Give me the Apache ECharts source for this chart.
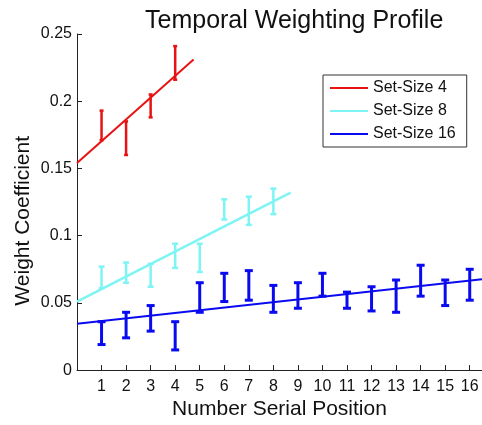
<!DOCTYPE html>
<html>
<head>
<meta charset="utf-8">
<script src="https://cdn.jsdelivr.net/npm/echarts@6/dist/echarts.min.js"></script>
<style>
html,body{margin:0;padding:0;background:#fff;}
#chart{width:482px;height:425px;}
</style>
</head>
<body>
<div id="chart"></div>
<script>
// ---- data ----
const xTicks = [1,2,3,4,5,6,7,8,9,10,11,12,13,14,15,16];
const yTicks = [0,0.05,0.1,0.15,0.2,0.25];

const seriesNames = ['Set-Size 4','Set-Size 8','Set-Size 16'];

// error bars: [position, low, high]
const errSS4 = [[1,0.171,0.193],[2,0.160,0.185],[3,0.188,0.205],[4,0.216,0.241]];
const errSS8 = [[1,0.061,0.077],[2,0.065,0.080],[3,0.062,0.079],[4,0.076,0.094],
                [5,0.073,0.094],[6,0.112,0.127],[7,0.108,0.129],[8,0.116,0.135]];
const errSS16 = [[1,0.019,0.036],[2,0.024,0.043],[3,0.029,0.048],[4,0.015,0.036],
                 [5,0.043,0.065],[6,0.051,0.072],[7,0.052,0.074],[8,0.043,0.063],
                 [9,0.046,0.065],[10,0.055,0.072],[11,0.046,0.058],[12,0.044,0.062],
                 [13,0.043,0.067],[14,0.055,0.078],[15,0.048,0.067],[16,0.052,0.075]];

// linear fit lines: endpoints [position, value]
const fitSS4 = [[0,0.154],[4.75,0.231]];
const fitSS8 = [[0,0.051],[8.7,0.132]];
const fitSS16 = [[0,0.0344],[16.5,0.0675]];

// ---- styling ----
const colors = ['#e81212','#7ff4f4','#0a0af0'];
const font = 'Liberation Sans, Arial, sans-serif';

function errBar(color, lw, capW){
  return function(params, api){
    const x = api.value(0), lo = api.value(1), hi = api.value(2);
    const a = api.coord([x, lo]), b = api.coord([x, hi]);
    const st = {stroke: color, lineWidth: lw, fill: null};
    return {type:'group', children:[
      {type:'line', shape:{x1:a[0],y1:a[1],x2:b[0],y2:b[1]}, style:st},
      {type:'line', shape:{x1:a[0]-capW/2,y1:a[1],x2:a[0]+capW/2,y2:a[1]}, style:st},
      {type:'line', shape:{x1:b[0]-capW/2,y1:b[1],x2:b[0]+capW/2,y2:b[1]}, style:st}
    ]};
  };
}

const chart = echarts.init(document.getElementById('chart'), null, {renderer:'canvas'});
chart.setOption({
  animation:false,
  backgroundColor:'#fff',
  title:{
    text:'Temporal Weighting Profile',
    left:140, top:4,
    textStyle:{fontFamily:font, fontSize:25, fontWeight:'normal', color:'#111'}
  },
  legend:{
    data: seriesNames,
    orient:'vertical',
    left:323, top:75,
    padding:[5,11,5,7],
    itemGap:7,
    itemWidth:38, itemHeight:2,
    icon:'rect',
    borderColor:'#333', borderWidth:1,
    backgroundColor:'#fff',
    textStyle:{fontFamily:font, fontSize:16, color:'#111'}
  },
  grid:{left:77, right:0, top:34, bottom:42, containLabel:false},
  xAxis:{
    type:'value', min:0, max:16.5,
    name:'Number Serial Position', nameLocation:'middle', nameGap:17,
    nameTextStyle:{fontFamily:font, fontSize:21, color:'#111'},
    axisLine:{show:true, lineStyle:{color:'#222', width:1}},
    axisTick:{show:true, inside:true, length:5, customValues:xTicks, lineStyle:{color:'#222'}},
    axisLabel:{customValues:xTicks, margin:8, fontFamily:font, fontSize:16, color:'#111'},
    splitLine:{show:false}
  },
  yAxis:{
    type:'value', min:0, max:0.25, interval:0.05,
    axisLine:{show:true, lineStyle:{color:'#222', width:1}},
    axisTick:{show:true, inside:true, length:5, customValues:yTicks, lineStyle:{color:'#222'}},
    axisLabel:{customValues:yTicks, margin:5, fontFamily:font, fontSize:16, color:'#111',
      formatter:function(v){return String(+v.toFixed(2));}},
    splitLine:{show:false}
  },
  graphic:[{
    type:'text', left:13, top:136, rotation:Math.PI/2,
    style:{text:'Weight Coefficient', font:'21px ' + font, fill:'#111'}
  }],
  series:[
    {name:'Set-Size 4', type:'line', data:fitSS4, symbol:'none', color:colors[0],
     lineStyle:{color:colors[0], width:2}, z:3},
    {name:'Set-Size 8', type:'line', data:fitSS8, symbol:'none', color:colors[1],
     lineStyle:{color:colors[1], width:2.5}, z:3},
    {name:'Set-Size 16', type:'line', data:fitSS16, symbol:'none', color:colors[2],
     lineStyle:{color:colors[2], width:2}, z:3},
    {name:'err4', type:'custom', data:errSS4, encode:{x:0,y:[1,2]},
     renderItem:errBar(colors[0],2.5,4), z:4},
    {name:'err8', type:'custom', data:errSS8, encode:{x:0,y:[1,2]},
     renderItem:errBar(colors[1],2.5,6), z:4},
    {name:'err16', type:'custom', data:errSS16, encode:{x:0,y:[1,2]},
     renderItem:errBar(colors[2],3,8), z:4}
  ]
});
</script>
</body>
</html>
